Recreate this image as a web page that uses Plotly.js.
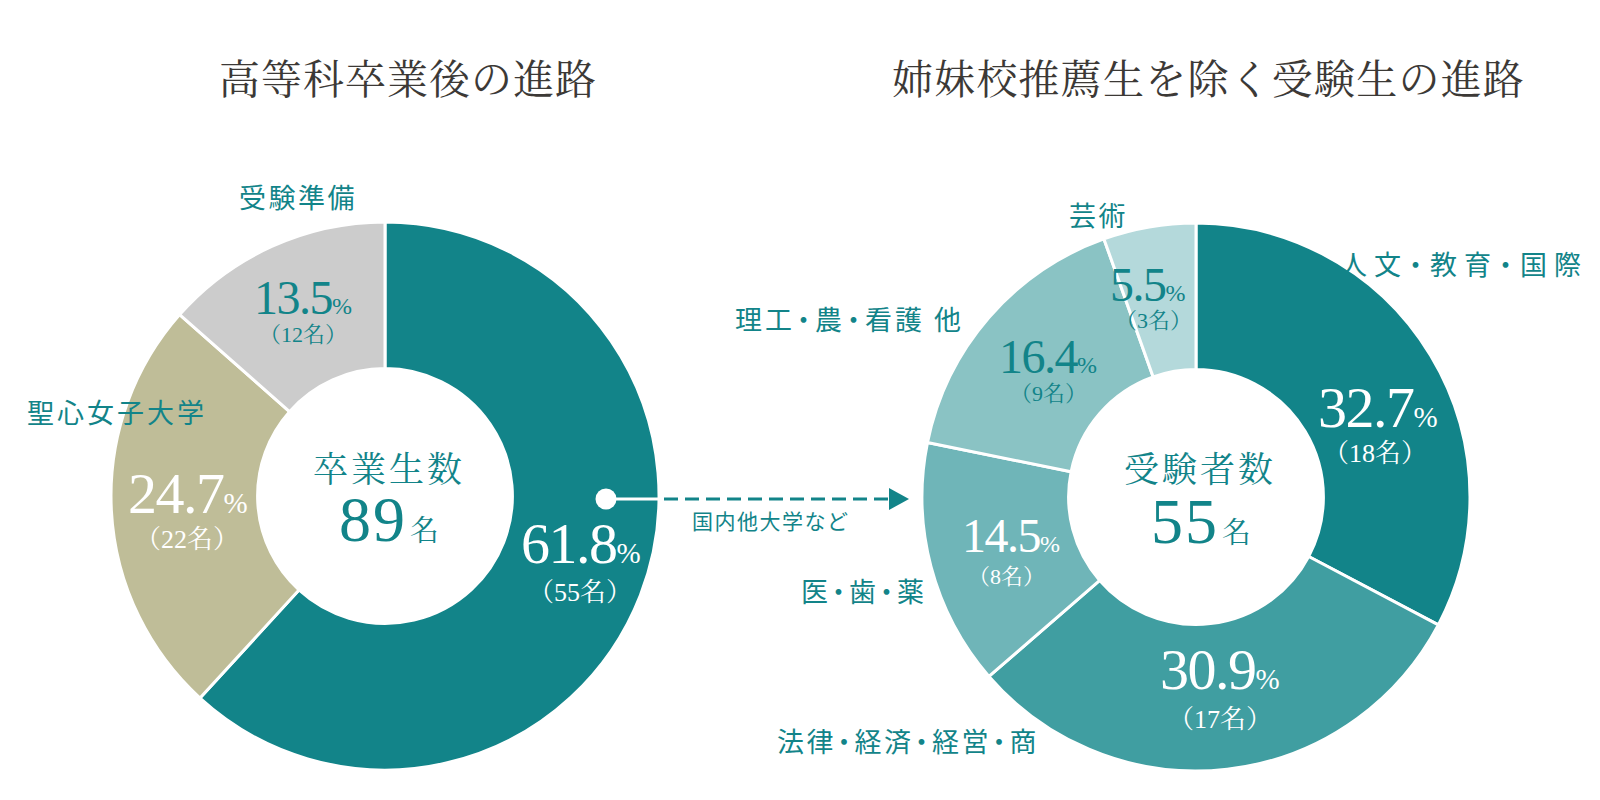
<!DOCTYPE html>
<html><head><meta charset="utf-8">
<script src="https://cdn.plot.ly/plotly-3.0.1.min.js"></script>
<style>html,body{margin:0;padding:0;background:#fff;}#chart{width:1600px;height:800px;}</style>
</head><body><div id="chart"></div>
<script>
// ---- data ----
const leftTitle = '高等科卒業後の進路';
const rightTitle = '姉妹校推薦生を除く受験生の進路';
const leftCategories = ['国内他大学など', '聖心女子大学', '受験準備'];
const leftCounts = [55, 22, 12];
const leftPercents = [61.8, 24.7, 13.5];
const leftTotalLabel = '卒業生数';
const leftTotal = 89;
const rightCategories = ['人文・教育・国際', '法律・経済・経営・商', '医・歯・薬', '理工・農・看護 他', '芸術'];
const rightCounts = [18, 17, 8, 9, 3];
const rightPercents = [32.7, 30.9, 14.5, 16.4, 5.5];
const rightTotalLabel = '受験者数';
const rightTotal = 55;

// ---- styles ----
const TEAL = '#128489';
const leftColors = ['#128489', '#bfbd98', '#cccccc'];
const rightColors = ['#128489', '#409ea1', '#6fb5b8', '#8ac3c4', '#b4d9db'];
const leftValueColors = ['#ffffff', '#ffffff', TEAL];
const rightValueColors = ['#ffffff', '#ffffff', '#ffffff', TEAL, TEAL];
const SERIF = '"Liberation Serif", "Noto Serif CJK JP", "Noto Sans CJK JP", serif';
const SANS = '"Noto Sans CJK JP", "Noto Sans", sans-serif';
const W = 1600, H = 800;
const px = x => x / W, py = y => 1 - y / H;

// label placement (pixels), sizes and spacing
const leftCatPos = [[771, 520], [117, 411], [298, 196]];
const leftCatSize = [21, 27, 27];
const leftCatSpacing = [[1.5, 0], [3, 0], [2.5, 0]];
const leftValPos = [[581, 543], [188, 493], [303, 297]];
const leftCntPos = [[580, 592], [187, 539], [303, 335]];
const leftValSize = [58, 58, 48];
const leftCntSize = [26, 26, 22];
const rightCatPos = [[1464, 263], [908, 740], [864, 590], [849, 319], [1098, 214]];
const rightCatSize = [27, 27, 27, 27, 27];
const rightCatSpacing = [[7, 1], [2.5, -3], [2.5, -3], [3, -2], [2.5, 0]];
const rightValPos = [[1378, 407], [1220, 669], [1011, 535], [1048, 356], [1148, 285]];
const rightCntPos = [[1375, 453], [1220, 719], [1006, 576], [1048, 394], [1153, 320]];
const rightValSize = [58, 58, 48, 48, 48];
const rightCntSize = [26, 26, 22, 22, 22];

function donut(values, labels, colors, cx, cy, r) {
  return {
    type: 'pie', values: values, labels: labels, sort: false, direction: 'clockwise', rotation: 0,
    hole: 0.465, textinfo: 'none', hoverinfo: 'label+value', showlegend: false,
    marker: {colors: colors, line: {color: '#ffffff', width: 3}},
    domain: {x: [px(cx - r), px(cx + r)], y: [py(cy + r), py(cy - r)]}
  };
}

// wrap each character so spacing can be tuned (middle dots drawn narrower)
function spaced(s, sp) {
  const ls = sp[0], dot = sp[1];
  const chars = Array.from(s);
  return chars.map((c, i) => {
    let l = ls;
    if (c === '・' || chars[i + 1] === '・') l = dot;
    return '<span style="letter-spacing:' + l + 'px">' + c + '</span>';
  }).join('');
}

const ann = [];
function addText(text, pos, size, color, family) {
  ann.push({text: text, x: px(pos[0]), y: py(pos[1]), xref: 'paper', yref: 'paper',
    xanchor: 'center', yanchor: 'middle', showarrow: false,
    font: {family: family, size: size, color: color}});
}
function pctText(v, size) {
  return '<span style="letter-spacing:-1.5px">' + v.toFixed(1) + '</span>' +
    '<span style="font-size:' + Math.round(size * 0.5) + 'px">%</span>';
}
function addSeries(cats, counts, pcts, catPos, catSize, catSp, valPos, cntPos, valSize, cntSize, valColors) {
  cats.forEach((c, i) => {
    addText(spaced(c, catSp[i]), catPos[i], catSize[i], TEAL, SANS);
    addText(pctText(pcts[i], valSize[i]), valPos[i], valSize[i], valColors[i], SERIF);
    addText('（' + counts[i] + '名）', cntPos[i], cntSize[i], valColors[i], SERIF);
  });
}
addSeries(leftCategories, leftCounts, leftPercents, leftCatPos, leftCatSize, leftCatSpacing, leftValPos, leftCntPos, leftValSize, leftCntSize, leftValueColors);
addSeries(rightCategories, rightCounts, rightPercents, rightCatPos, rightCatSize, rightCatSpacing, rightValPos, rightCntPos, rightValSize, rightCntSize, rightValueColors);
// centre texts
function totalText(n) {
  return '<span style="letter-spacing:2px">' + n + '</span><span style="font-size:12px"> </span><span style="font-size:29px">名</span>';
}
addText('<span style="letter-spacing:3px">' + leftTotalLabel + '</span>', [389, 470], 35, TEAL, SERIF);
addText(totalText(leftTotal), [389, 519], 64, TEAL, SERIF);
addText('<span style="letter-spacing:3px">' + rightTotalLabel + '</span>', [1200, 470], 35, TEAL, SERIF);
addText(totalText(rightTotal), [1201, 521], 64, TEAL, SERIF);
// titles
addText('<span style="letter-spacing:1px">' + leftTitle + '</span>', [408, 80], 41, '#3c3936', SERIF);
addText('<span style="letter-spacing:1.2px">' + rightTitle + '</span>', [1208, 80], 41, '#3c3936', SERIF);

// arrow from left chart to right chart
const shapes = [
  {type: 'line', xref: 'paper', yref: 'paper', x0: px(606), x1: px(658), y0: py(499), y1: py(499), line: {color: '#ffffff', width: 3}},
  {type: 'line', xref: 'paper', yref: 'paper', x0: px(664), x1: px(892), y0: py(499), y1: py(499), line: {color: TEAL, width: 3, dash: '14px,7px'}},
  {type: 'path', xref: 'paper', yref: 'paper', path: 'M ' + px(889) + ' ' + py(488) + ' L ' + px(909) + ' ' + py(499) + ' L ' + px(889) + ' ' + py(510) + ' Z', fillcolor: TEAL, line: {width: 0}},
  {type: 'circle', xref: 'paper', yref: 'paper', x0: px(595.5), x1: px(616.5), y0: py(509.5), y1: py(488.5), fillcolor: '#ffffff', line: {width: 0}}
];

const data = [
  donut(leftCounts, leftCategories, leftColors, 385, 496, 274),
  donut(rightCounts, rightCategories, rightColors, 1196, 497, 274)
];
const layout = {width: W, height: H, margin: {l: 0, r: 0, t: 0, b: 0}, paper_bgcolor: '#ffffff',
  annotations: ann, shapes: shapes};
Plotly.newPlot('chart', data, layout, {displayModeBar: false, staticPlot: true});
</script></body></html>
